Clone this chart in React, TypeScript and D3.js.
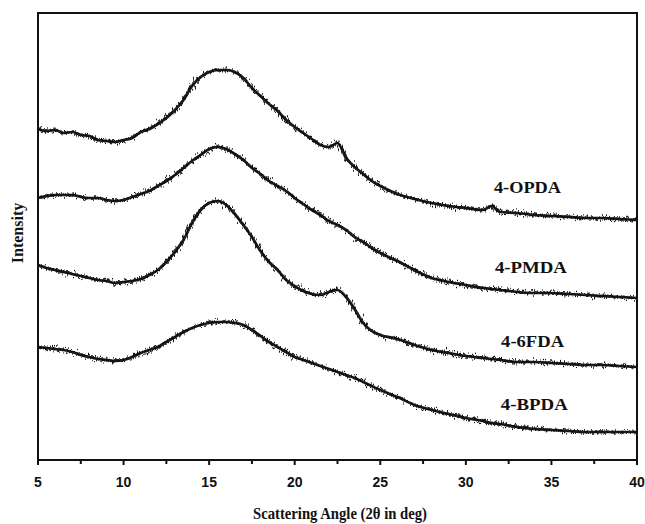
import React from 'react';
import * as d3 from 'd3';

// scattering angle 2θ (deg)
const angles = [
  5, 5.5, 6, 6.5, 7, 7.5, 8, 8.5, 9, 9.5,
  10, 10.5, 11, 11.5, 12, 12.5, 13, 13.5, 14, 14.5,
  15, 15.5, 16, 16.5, 17, 17.5, 18, 18.5, 19, 19.5,
  20, 20.5, 21, 21.5, 22, 22.5, 23, 23.5, 24, 24.5,
  25, 26, 27, 28, 29, 30, 31, 31.5, 32, 33, 34, 35, 36, 37, 38, 39, 40,
];

// intensity (a.u., stacked as plotted)
const opda = [
  331, 329, 330, 327, 328, 325, 324, 320, 319, 318,
  320, 322, 328, 331, 336, 342, 350, 360, 374, 383,
  388, 390, 390, 388, 382, 372, 364, 356, 349, 340,
  333, 327, 321, 315, 313, 317, 302, 293, 286, 279,
  274, 266, 261, 257, 254, 252, 250, 254, 248, 247, 245, 244, 243, 242, 242, 241, 240,
];
const pmda = [
  262, 264, 265, 265, 265, 263, 262, 262, 260, 259,
  260, 263, 266, 269, 274, 279, 285, 292, 299, 305,
  311, 313, 311, 306, 300, 292, 286, 279, 274, 269,
  262, 256, 250, 245, 239, 235, 230, 223, 218, 212,
  207, 199, 190, 182, 178, 175, 172, 171, 170, 168, 167, 167, 166, 165, 164, 163, 162,
];
const fda6 = [
  195, 192, 190, 188, 186, 184, 182, 180, 179, 177,
  178, 179, 181, 185, 190, 198, 208, 220, 237, 250,
  257, 259, 255, 246, 235, 223, 209, 198, 190, 180,
  174, 169, 166, 165, 168, 170, 163, 151, 137, 129,
  125, 121, 115, 110, 107, 104, 102, 101, 100, 98, 98, 97, 96, 95, 95, 94, 93,
];
const bpda = [
  113, 112, 111, 110, 108, 105, 103, 101, 100, 99,
  100, 103, 107, 110, 113, 118, 123, 128, 132, 135,
  137, 138, 138, 137, 135, 130, 124, 118, 113, 108,
  103, 100, 97, 94, 91, 88, 85, 82, 78, 74,
  70, 63, 55, 50, 46, 42, 39, 37, 36, 33, 31, 30, 29, 28, 28, 28, 28,
];

const seriesNames = ['4-OPDA', '4-PMDA', '4-6FDA', '4-BPDA'];
const seriesValues = [opda, pmda, fda6, bpda];
// label anchor (angle, intensity)
const labelPos = [
  [33.6, 267],
  [33.8, 187],
  [33.9, 113],
  [34.0, 50],
];

const xTicks = [5, 10, 15, 20, 25, 30, 35, 40];
const xMinor = [7.5, 12.5, 17.5, 22.5, 27.5, 32.5, 37.5];

export default function App() {
  const W = 645,
    H = 524;
  const margin = { top: 13, right: 8, bottom: 64, left: 38 };
  const x = d3
    .scaleLinear()
    .domain([5, 40])
    .range([margin.left, W - margin.right]);
  const y = d3
    .scaleLinear()
    .domain([0, 447])
    .range([H - margin.bottom, margin.top]);

  const line = d3
    .line<number>()
    .x((_, i) => x(angles[i]))
    .y((d) => y(d))
    .curve(d3.curveMonotoneX);

  const x0 = x(5),
    x1 = x(40),
    yb = y(0),
    yt = y(447);

  const serif = "'Liberation Serif', 'Times New Roman', serif";

  return (
    <svg
      width={W}
      height={H}
      style={{ position: 'absolute', left: 0, top: 0, background: '#fff' }}
    >
      <defs>
        {/* jagged detector-noise look, two grains */}
        {[3, 11].map((s) => (
          <filter key={s} id={`grain${s}`} x="-2%" y="-30%" width="104%" height="160%">
            <feTurbulence
              type="fractalNoise"
              baseFrequency="1.1 0.03"
              numOctaves={2}
              seed={s}
              result="n"
            />
            <feDisplacementMap
              in="SourceGraphic"
              in2="n"
              scale={12}
              xChannelSelector="B"
              yChannelSelector="R"
            />
          </filter>
        ))}
        <clipPath id="plot">
          <rect x={x0} y={yt} width={x1 - x0} height={yb - yt} />
        </clipPath>
      </defs>

      <g clipPath="url(#plot)">
        {seriesValues.map((vals, i) => (
          <g key={seriesNames[i]}>
            <path
              d={line(vals) || ''}
              fill="none"
              stroke="#111"
              strokeWidth={2.7}
              strokeLinejoin="round"
            />
            <path
              d={line(vals) || ''}
              fill="none"
              stroke="#111"
              strokeWidth={1.3}
              filter="url(#grain3)"
            />
            <path
              d={line(vals) || ''}
              fill="none"
              stroke="#222"
              strokeWidth={1.1}
              filter="url(#grain11)"
            />
          </g>
        ))}
      </g>

      {seriesNames.map((name, i) => (
        <text
          key={name}
          x={x(labelPos[i][0])}
          y={y(labelPos[i][1])}
          fontFamily={serif}
          fontWeight="bold"
          fontSize={17}
          textAnchor="middle"
          textLength={name === '4-6FDA' ? 63 : name === '4-PMDA' ? 72 : 67}
          lengthAdjust="spacingAndGlyphs"
          fill="#111"
        >
          {name}
        </text>
      ))}

      {/* frame */}
      <rect
        x={x0}
        y={yt}
        width={x1 - x0}
        height={yb - yt}
        fill="none"
        stroke="#111"
        strokeWidth={2}
      />

      {/* x ticks */}
      {xTicks.map((t) => (
        <g key={t} transform={`translate(${x(t)},${yb})`}>
          <line y2={5} stroke="#111" strokeWidth={2} />
          <text
            y={27}
            textAnchor="middle"
            fontFamily="'Liberation Sans', Arial, sans-serif"
            fontWeight="bold"
            fontSize={14}
            fill="#111"
          >
            {t}
          </text>
        </g>
      ))}
      {xMinor.map((t) => (
        <line
          key={t}
          x1={x(t)}
          x2={x(t)}
          y1={yb}
          y2={yb + 4}
          stroke="#111"
          strokeWidth={2}
        />
      ))}

      <text
        x={340}
        y={519}
        textAnchor="middle"
        fontFamily={serif}
        fontWeight="bold"
        fontSize={17}
        textLength={174}
        lengthAdjust="spacingAndGlyphs"
        fill="#111"
      >
        Scattering Angle (2θ  in deg)
      </text>
      <text
        transform="translate(23,233) rotate(-90)"
        textAnchor="middle"
        fontFamily={serif}
        fontWeight="bold"
        fontSize={16}
        fill="#111"
      >
        Intensity
      </text>
    </svg>
  );
}
